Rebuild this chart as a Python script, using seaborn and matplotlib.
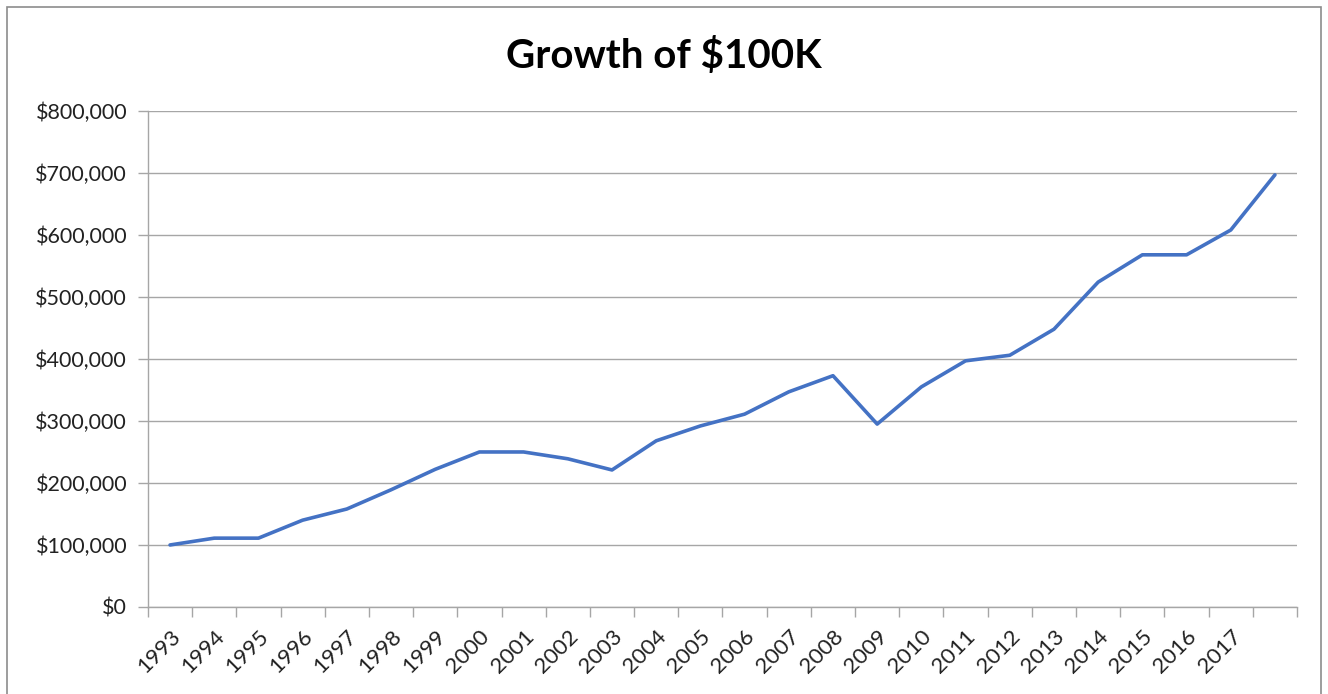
import numpy as np
import pandas as pd
import seaborn as sns
import matplotlib.pyplot as plt
from matplotlib.ticker import FuncFormatter, MultipleLocator
from matplotlib.patches import Rectangle

# growth of 100k (last point has no label)
years = list(range(1993, 2019))
tick_labels = [str(y) for y in range(1993, 2018)] + [""]
values = [100000, 111000, 111000, 140000, 158000, 189000, 222000, 250000,
          250000, 239000, 221000, 268000, 292000, 311000, 347000, 373000,
          295000, 355000, 397000, 406000, 448000, 524000, 568000, 568000,
          608000, 697000]

df = pd.DataFrame({"idx": np.arange(len(years)), "value": values})

sns.set_theme(style="white")
plt.rcParams['font.family'] = ['Lato', 'DejaVu Sans']

fig = plt.figure(figsize=(13.28, 6.94), dpi=100)
ax = fig.add_axes([0.1114, 0.1254, 0.8653, 0.7147])

sns.lineplot(data=df, x="idx", y="value", ax=ax, color="#4472C4", linewidth=2.6)

ax.set_xlim(-0.5, len(years) - 0.5)
ax.set_ylim(0, 800000)
ax.yaxis.set_major_locator(MultipleLocator(100000))
ax.yaxis.set_major_formatter(FuncFormatter(lambda v, p: "${:,.0f}".format(v)))
ax.grid(axis="y", color="#A6A6A6", linewidth=1)
ax.set_axisbelow(True)

# category labels at centres, tick marks between categories
ax.set_xticks(df["idx"])
ax.set_xticklabels(tick_labels, rotation=45, ha="right", rotation_mode="anchor")
ax.set_xticks(np.arange(-0.5, len(years)), minor=True)
ax.tick_params(axis="x", which="major", length=0, pad=14, labelsize=16, colors="#222222")
ax.tick_params(axis="x", which="minor", length=7, width=1, color="#A6A6A6", direction="out", bottom=True)
ax.tick_params(axis="y", length=7, width=1, color="#A6A6A6", direction="out", left=True,
               labelsize=15.5, labelcolor="#222222", pad=8)

for s in ["top", "right"]:
    ax.spines[s].set_visible(False)
for s in ["left", "bottom"]:
    ax.spines[s].set_color("#A6A6A6")
    ax.spines[s].set_linewidth(1)

ax.set_xlabel("")
ax.set_ylabel("")

fig.text(0.5, 0.92, "Growth of $100K", ha="center", va="center",
         fontsize=29, fontweight="bold", color="black")

fig.patches.append(Rectangle((0.005, -0.05), 0.99, 1.04, transform=fig.transFigure,
                             fill=False, edgecolor="#8C8C8C", linewidth=1.2))

fig.savefig("out.png", dpi=100)
